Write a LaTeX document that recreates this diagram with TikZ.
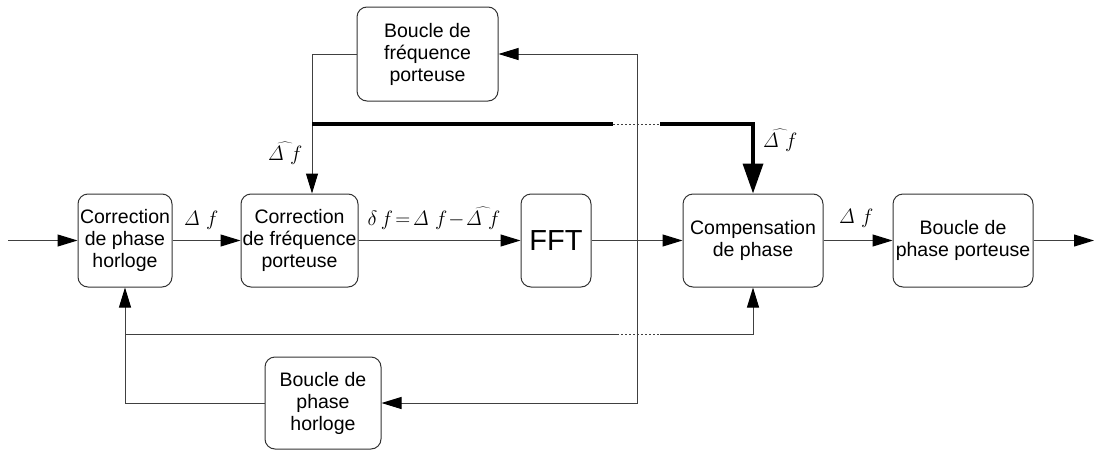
\documentclass[tikz,border=0pt]{standalone}
\usepackage[no-math]{fontspec}
\setmainfont{Liberation Sans}
\usetikzlibrary{arrows.meta}
\begin{document}
\begin{tikzpicture}[x=1pt,y=-1pt,
  blk/.style={draw=black!80, line width=1pt, rounded corners=10pt, inner sep=0pt, align=center,
              font=\fontsize{19.5}{22}\selectfont, minimum height=93pt},
  ln/.style={draw=black!75, line width=1pt},
  arr/.style={ln, -{Triangle[length=20pt,width=12pt,color=black]}},
  thk/.style={draw=black, line width=3.5pt},
  thkarr/.style={thk, -{Triangle[length=30pt,width=20pt,color=black]}},
  dotl/.style={draw=black!75, line width=1pt, dash pattern=on 2pt off 2pt},
  lbl/.style={font=\fontsize{20}{24}\selectfont, inner sep=0pt, anchor=base}]
\useasboundingbox (0,0) rectangle (1094,450);

% blocks
\node[blk, minimum width=94pt]  (b1)   at (125,240.5) {Correction\\de phase\\horloge};
\node[blk, minimum width=117pt] (b2)   at (299.5,240.5) {Correction\\de fréquence\\porteuse};
\node[blk, minimum width=70pt, font=\fontsize{29}{32}\selectfont] (fft) at (556,240.5) {FFT};
\node[blk, minimum width=140pt] (comp) at (753,240.5) {Compensation\\de phase};
\node[blk, minimum width=140pt] (port) at (963,240.5) {Boucle de\\phase porteuse};
\node[blk, minimum width=141pt, minimum height=94pt] (top) at (427.5,54) {Boucle de\\fréquence\\porteuse};
\node[blk, minimum width=116pt, minimum height=92pt] (bot) at (323,403) {Boucle de\\phase\\horloge};

% free ends
\coordinate (in)  at (8,240.5);
\coordinate (out) at (1094,240.5);
\coordinate (v)   at (637,240.5);
\coordinate (t1)  at (312,124);
\coordinate (t2)  at (613,124);
\coordinate (t3)  at (660,124);
\coordinate (f1)  at (126,334);
\coordinate (f2)  at (617,334);
\coordinate (f3)  at (660,334);

% main chain
\draw[arr] (in) -- (b1.west);
\draw[arr] (b1.east) -- (b2.west);
\draw[arr] (b2.east) -- (fft.west);
\draw[arr] (fft.east) -- (comp.west);
\draw[arr] (comp.east) -- (port.west);
\draw[arr] (port.east) -- (out);

% branch to loops
\draw[arr] (v) |- (top.east);
\draw[arr] (v) |- (bot.east);

% frequency loop back
\draw[arr] (top.west) -| ([xshift=12.5pt]b2.north);
\draw[thk] (t1) -- (t2);
\draw[dotl] (t2) -- (t3);
\draw[thkarr] (t3) -| (comp.north);

% phase loop back
\draw[arr] (bot.west) -| (b1.south);
\draw[ln] (f1) -- (f2);
\draw[dotl] (f2) -- (f3);
\draw[arr] (f3) -| (comp.south);

% labels
\node[lbl] (l1) at (201,225) {$\mathit{\Delta}\; f$};
\node[lbl] (l2) at (434,225) {$\delta\, f\! =\! \mathit{\Delta}\; f \!-\! \widehat{\mathit{\Delta}\; f}$};
\node[lbl] (l3) at (856,223) {$\mathit{\Delta}\; f$};
\node[lbl] (l4) at (285,160) {$\widehat{\mathit{\Delta}\; f}$};
\node[lbl] (l5) at (780,147) {$\widehat{\mathit{\Delta}\; f}$};
\end{tikzpicture}
\end{document}
